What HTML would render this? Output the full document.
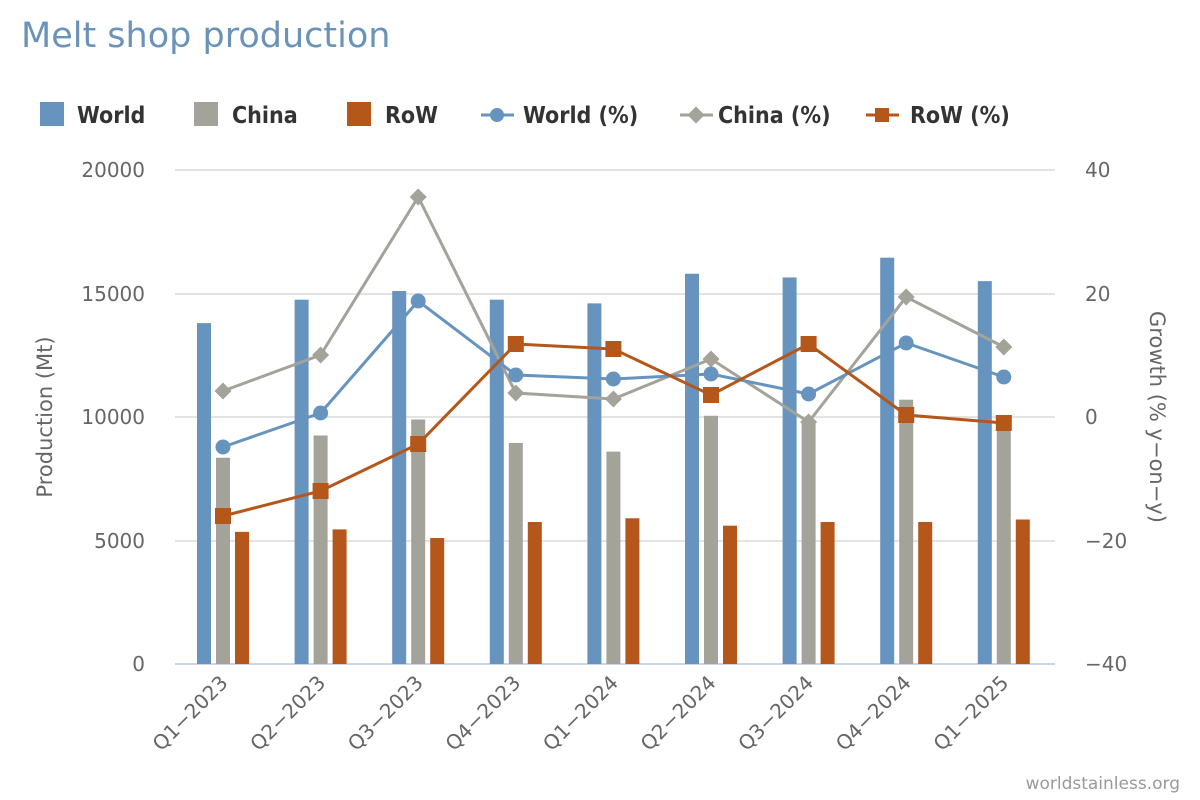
<!DOCTYPE html>
<html><head><meta charset="utf-8"><style>
body{margin:0;background:#fff;}
svg{display:block;font-family:"DejaVu Sans","Liberation Sans",sans-serif;}
</style></head><body>
<svg width="1200" height="800" viewBox="0 0 1200 800" xmlns="http://www.w3.org/2000/svg">
<rect width="1200" height="800" fill="#fff"/>
<text x="21" y="47" font-size="35" fill="#6b93b8">Melt shop production</text>
<g font-size="23" font-weight="bold" fill="#333" font-family="DejaVu Sans Condensed, DejaVu Sans, sans-serif">
<rect x="40" y="102" width="24" height="24" fill="#6694bf"/><text x="77" y="123">World</text>
<rect x="194" y="102" width="24" height="24" fill="#a3a39a"/><text x="232" y="123">China</text>
<rect x="347" y="102" width="24" height="24" fill="#b5561b"/><text x="385" y="123">RoW</text>
<line x1="481" y1="115" x2="514" y2="115" stroke="#6694bf" stroke-width="3"/><circle cx="497" cy="115" r="7" fill="#6694bf"/><text x="523" y="123">World (%)</text>
<line x1="680" y1="115" x2="713" y2="115" stroke="#a3a39a" stroke-width="3"/><rect x="690" y="109" width="12" height="12" transform="rotate(45 696 115)" fill="#a3a39a"/><text x="718" y="123">China (%)</text>
<line x1="866" y1="115" x2="899" y2="115" stroke="#b5561b" stroke-width="3"/><rect x="875" y="108" width="14" height="14" fill="#b5561b"/><text x="910" y="123">RoW (%)</text>
</g>
<g stroke="#e3e3e3" stroke-width="2">
<line x1="175" y1="170" x2="1055" y2="170"/><line x1="175" y1="294" x2="1055" y2="294"/><line x1="175" y1="417" x2="1055" y2="417"/><line x1="175" y1="541" x2="1055" y2="541"/>
</g>
<line x1="175" y1="664" x2="1055" y2="664" stroke="#ccd6eb" stroke-width="2"/>
<g font-size="20" fill="#666" text-anchor="end">
<text x="145" y="177">20000</text><text x="145" y="301">15000</text><text x="145" y="424">10000</text><text x="145" y="548">5000</text><text x="145" y="671">0</text>
</g>
<g font-size="20" fill="#666">
<text x="1085" y="177">40</text><text x="1085" y="301">20</text><text x="1085" y="424">0</text><text x="1085" y="548">−20</text><text x="1085" y="671">−40</text>
</g>
<text transform="translate(52 417) rotate(-90)" font-size="21" fill="#666" text-anchor="middle">Production (Mt)</text>
<text transform="translate(1150 417) rotate(90)" font-size="21" fill="#666" text-anchor="middle">Growth (% y−on−y)</text>
<g id="bars"></g>
<g id="lines"></g>
<g id="xl" font-size="20" fill="#666" text-anchor="end"></g>
<text x="1180" y="789" font-size="17" fill="#999" text-anchor="end">worldstainless.org</text>
<script>
var ns="http://www.w3.org/2000/svg";
function el(p,t,a){var e=document.createElementNS(ns,t);for(var k in a)e.setAttribute(k,a[k]);p.appendChild(e);return e;}
var W=[13800,14750,15100,14750,14600,15800,15650,16450,15500],
C=[8350,9250,9900,8950,8600,10050,9800,10700,9650],
R=[5350,5450,5100,5750,5900,5600,5750,5750,5850],
Wp=[447,413,301,375,379,374,394,343,377],
Cp=[391,355,197,393,399,359,422,297,347],
Rp=[516,491,444,344,349,395,344,415,423],
L=["Q1-2023","Q2-2023","Q3-2023","Q4-2023","Q1-2024","Q2-2024","Q3-2024","Q4-2024","Q1-2025"];
var b=document.getElementById("bars"),ln=document.getElementById("lines"),xl=document.getElementById("xl");
function y(v){return 664-v*494/20000;}
function cx(i){return 223+97.6*i;}
for(var i=0;i<9;i++){var c=cx(i);
el(b,"rect",{x:c-26,y:y(W[i]),width:14,height:664-y(W[i]),fill:"#6694bf"});
el(b,"rect",{x:c-7,y:y(C[i]),width:14,height:664-y(C[i]),fill:"#a3a39a"});
el(b,"rect",{x:c+12,y:y(R[i]),width:14,height:664-y(R[i]),fill:"#b5561b"});
var t=el(xl,"text",{transform:"translate("+(c+6)+" 684) rotate(-45)"});t.textContent=L[i].replace("-","−");}
function pl(a,col){var p=a.map(function(v,i){return cx(i)+","+v}).join(" ");el(ln,"polyline",{points:p,fill:"none",stroke:col,"stroke-width":3});}
pl(Cp,"#a3a39a");pl(Wp,"#6694bf");pl(Rp,"#b5561b");
for(var i=0;i<9;i++){var c=cx(i);
el(ln,"rect",{x:c-6,y:Cp[i]-6,width:12,height:12,fill:"#a3a39a",transform:"rotate(45 "+c+" "+Cp[i]+")"});
el(ln,"circle",{cx:c,cy:Wp[i],r:7.5,fill:"#6694bf"});
el(ln,"rect",{x:c-8,y:Rp[i]-8,width:16,height:16,fill:"#b5561b"});}
</script>
</svg>
</body></html>
